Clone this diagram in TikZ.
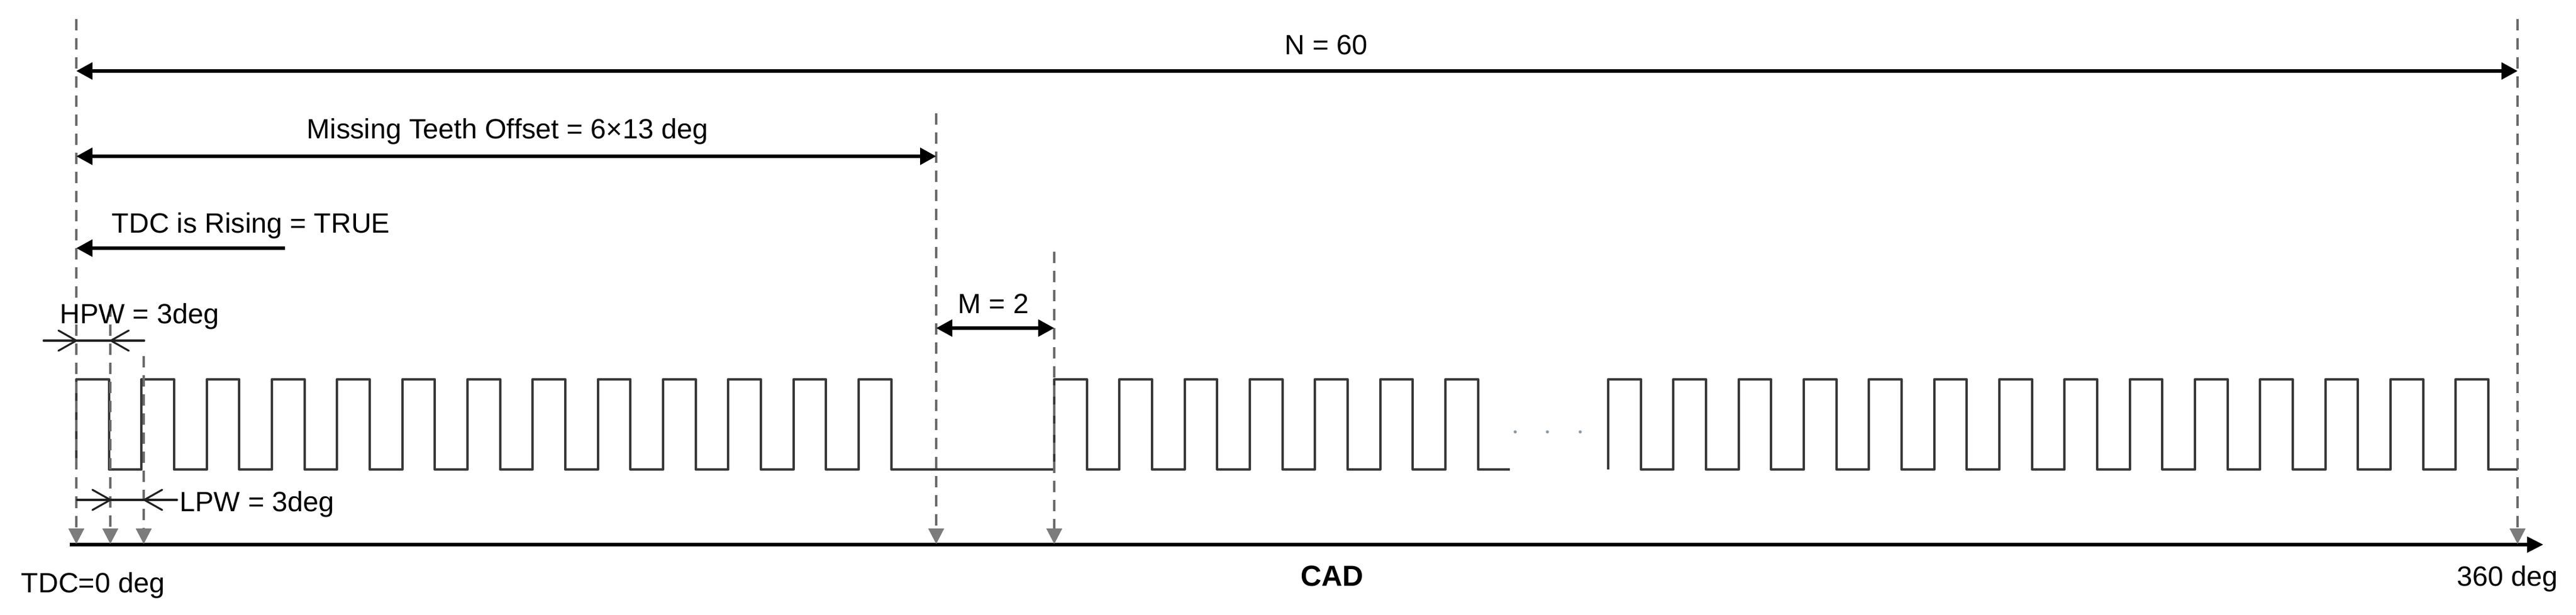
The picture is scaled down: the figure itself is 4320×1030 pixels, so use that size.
\documentclass[tikz,border=0pt]{standalone}
\usepackage{fontspec}
\setmainfont{Liberation Sans}
\usetikzlibrary{arrows.meta}
\definecolor{guidegray}{HTML}{6A6A6A}
\definecolor{tipgray}{HTML}{7C7C7C}
\definecolor{sigcol}{HTML}{383838}
\definecolor{dimcol}{HTML}{202020}
\definecolor{dotcol}{HTML}{8A96A6}
\tikzset{
  lbl/.style={inner sep=0pt, font=\fontsize{13.3}{15}\selectfont, text=black},
  guide/.style={draw=guidegray, line width=0.95pt, dash pattern=on 0.19cm off 0.13cm,
    -{Triangle[length=0.26cm,width=0.26cm,color=tipgray]}},
  dimarrow/.style={line width=1.45pt, draw=black},
  bigtip/.style={arrows={-Triangle[length=0.27cm,width=0.28cm]}},
  bothtip/.style={arrows={Triangle[length=0.27cm,width=0.28cm]-Triangle[length=0.27cm,width=0.28cm]}},
  thindim/.style={line width=0.9pt, draw=dimcol, line cap=round, line join=round},
  sig/.style={line width=1.2pt, draw=sigcol, line join=round},
  axisline/.style={line width=1.45pt, draw=black, -{Triangle[length=0.27cm,width=0.26cm]}}
}
\begin{document}
\begin{tikzpicture}[x=0.01cm,y=-0.01cm]
\useasboundingbox (0,0) rectangle (4320,1030);
\def\p{109.33}
\def\h{54.67}
% coordinates
\coordinate (g0t) at (128,32);   \coordinate (g0b) at (128,912);
\coordinate (g1t) at (185,512);  \coordinate (g1b) at (185,912);
\coordinate (g2t) at (241,597);  \coordinate (g2b) at (241,912);
\coordinate (g3t) at (1570,190); \coordinate (g3b) at (1570,912);
\coordinate (g4t) at (1768,422); \coordinate (g4b) at (1768,912);
\coordinate (g5t) at (4222,32);  \coordinate (g5b) at (4222,912);
\coordinate (axL) at (117,913);  \coordinate (axR) at (4265,913);

% signal
\draw[sig] (128,787)
  foreach \k in {0,...,12}{ -- ({128+\k*\p},787) -- ({128+\k*\p},636) -- ({128+\k*\p+\h},636) -- ({128+\k*\p+\h},787) }
  foreach \k in {15,...,21}{ -- ({128+\k*\p},787) -- ({128+\k*\p},636) -- ({128+\k*\p+\h},636) -- ({128+\k*\p+\h},787) }
  -- (2532,787);
\draw[sig] (2697,787)
  foreach \k in {0,...,13}{ -- ({2697+\k*\p},787) -- ({2697+\k*\p},636) -- ({2697+\k*\p+\h},636) -- ({2697+\k*\p+\h},787) }
  -- (4222,787);
% dots
\foreach \xx in {2541,2595,2650}{ \fill[dotcol] (\xx,724) circle (2.6); }

% axis
\draw[axisline] (axL) -- (axR);
% guide lines
\foreach \i in {0,...,5}{ \draw[guide] (g\i t) -- (g\i b); }

% N = 60
\coordinate (nL) at (128,119); \coordinate (nR) at (4222,119);
\draw[dimarrow,bothtip] (nL) -- (nR);
\node[lbl, anchor=base] (nlab) at (2224,91) {N = 60};
% Missing teeth offset
\coordinate (mL) at (128,262); \coordinate (mR) at (1570,262);
\draw[dimarrow,bothtip] (mL) -- (mR);
\node[lbl, anchor=base] (mlab) at (851,232) {Missing Teeth Offset = 6×13 deg};
% TDC is rising
\coordinate (tS) at (478,416); \coordinate (tE) at (128,416);
\draw[dimarrow,bigtip] (tS) -- (tE);
\node[lbl, anchor=base west] (tlab) at (187,390) {TDC is Rising = TRUE};
% M = 2
\coordinate (kL) at (1570,550); \coordinate (kR) at (1768,550);
\draw[dimarrow,bothtip] (kL) -- (kR);
\node[lbl, anchor=base] (klab) at (1666,525) {M = 2};

% HPW
\coordinate (hA) at (73,571); \coordinate (hB) at (242,571);
\draw[thindim] (hA) -- (hB);
\draw[thindim] (98,554) -- (128,571) -- (98,588);
\draw[thindim] (216,554) -- (186,571) -- (216,588);
\node[lbl, anchor=base west] (hlab) at (100,542) {HPW = 3deg};
% LPW
\coordinate (lA) at (129,838); \coordinate (lB) at (297,838);
\draw[thindim] (lA) -- (lB);
\draw[thindim] (155,821) -- (185,838) -- (155,855);
\draw[thindim] (272,821) -- (242,838) -- (272,855);
\node[lbl, anchor=base west] (llab) at (301,857) {LPW = 3deg};

% axis labels
\node[lbl, anchor=base west] (tdc0) at (35,993) {TDC=0 deg};
\node[lbl, anchor=base west] (d360) at (4120,982) {360 deg};
\node[lbl, anchor=base, font=\fontsize{13.8}{15}\selectfont\bfseries] (cad) at (2234,982) {CAD};
\end{tikzpicture}
\end{document}
